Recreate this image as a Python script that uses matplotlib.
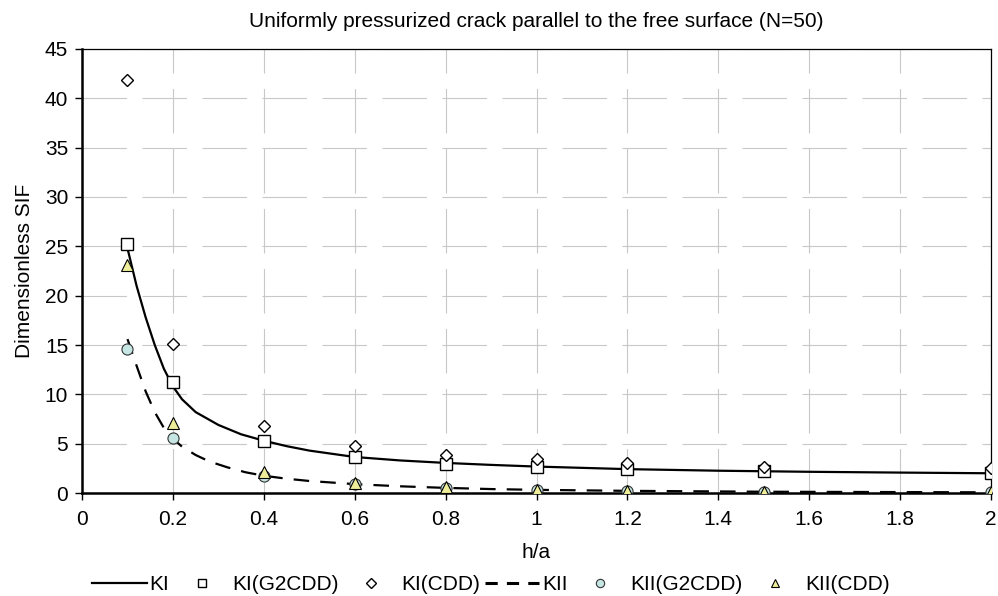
import matplotlib
matplotlib.use("Agg")
import matplotlib.pyplot as plt
from matplotlib.lines import Line2D

plt.rcParams["font.family"] = ["Liberation Sans", "DejaVu Sans"]

# Markers: numerical results at the sampled h/a values
h_marks = [0.1, 0.2, 0.4, 0.6, 0.8, 1.0, 1.2, 1.5, 2.0]
ki_g2cdd = [25.2, 11.25, 5.27, 3.68, 2.94, 2.6, 2.4, 2.26, 2.06]
ki_cdd = [41.9, 15.07, 6.8, 4.8, 3.85, 3.41, 3.0, 2.67, 2.5]
kii_g2cdd = [14.56, 5.54, 1.72, 0.9, 0.5, 0.3, 0.2, 0.12, 0.07]
kii_cdd = [23.1, 7.1, 2.16, 1.05, 0.58, 0.3, 0.18, 0.1, 0.06]

# Reference curves
h_ki = [0.1, 0.12, 0.14, 0.16, 0.18, 0.2, 0.22, 0.25, 0.3, 0.35, 0.4,
        0.45, 0.5, 0.6, 0.7, 0.8, 0.9, 1.0, 1.2, 1.4, 1.6, 1.8, 2.0]
ki_line = [24.8, 21.0, 17.8, 15.0, 12.6, 10.8, 9.5, 8.2, 6.9, 5.95, 5.3,
           4.75, 4.3, 3.65, 3.3, 3.05, 2.85, 2.68, 2.42, 2.26, 2.15, 2.07, 2.0]
h_kii = [0.1, 0.12, 0.14, 0.16, 0.18, 0.2, 0.22, 0.25, 0.28, 0.32, 0.36,
         0.4, 0.45, 0.5, 0.6, 0.7, 0.8, 0.9, 1.0, 1.2, 1.5, 2.0]
kii_line = [15.6, 12.9, 10.3, 8.2, 6.6, 5.5, 4.7, 3.85, 3.2, 2.6, 2.1,
            1.75, 1.45, 1.22, 0.9, 0.68, 0.52, 0.4, 0.32, 0.22, 0.13, 0.07]

x_ticks = [0, 0.2, 0.4, 0.6, 0.8, 1.0, 1.2, 1.4, 1.6, 1.8, 2.0]
x_labels = ["0", "0.2", "0.4", "0.6", "0.8", "1", "1.2", "1.4", "1.6", "1.8", "2"]
y_ticks = list(range(0, 50, 5))

fig = plt.figure(figsize=(9.98, 5.96), dpi=100)
ax = fig.add_axes([0.0822, 0.1728, 0.9108, 0.745])

ax.plot(h_ki, ki_line, color="black", lw=1.6, label="KI", zorder=3)
ax.plot(h_marks, ki_g2cdd, ls="none", marker="s", ms=8, mfc="white",
        mec="black", mew=1.0, label="KI(G2CDD)", zorder=4)
ax.plot(h_marks, ki_cdd, ls="none", marker="D", ms=6.5, mfc="white",
        mec="black", mew=1.0, label="KI(CDD)", zorder=4)
ax.plot(h_kii, kii_line, color="black", lw=1.6, ls=(0, (7, 5)),
        label="KII", zorder=3)
ax.plot(h_marks, kii_g2cdd, ls="none", marker="o", ms=8, mfc="#c6e6e4",
        mec="#333333", mew=0.8, label="KII(G2CDD)", zorder=5)
ax.plot(h_marks, kii_cdd, ls="none", marker="^", ms=8, mfc="#eeee9a",
        mec="black", mew=0.8, label="KII(CDD)", zorder=6)

ax.set_xlim(0, 2)
ax.set_ylim(0, 45)
ax.set_xticks(x_ticks)
ax.set_xticklabels(x_labels)
ax.set_yticks(y_ticks)
ax.tick_params(labelsize=15, direction="out", length=5, width=1)
ax.tick_params(axis="x", pad=7)
ax.tick_params(axis="y", pad=5)

ax.grid(True, color="#c8c8c8", lw=0.8, ls=(0, (40, 14)))
ax.set_axisbelow(True)

for side in ["left", "bottom"]:
    ax.spines[side].set_linewidth(1.8)
for side in ["top", "right"]:
    ax.spines[side].set_linewidth(0.9)

ax.set_title("Uniformly pressurized crack parallel to the free surface (N=50)",
             fontsize=15, pad=16)
ax.set_xlabel("h/a", fontsize=15, labelpad=10)
ax.set_ylabel("Dimensionless SIF", fontsize=15, labelpad=8)

handles = [
    Line2D([], [], color="black", lw=1.6),
    Line2D([], [], ls="none", marker="s", ms=6, mfc="white", mec="black", mew=1.0),
    Line2D([], [], ls="none", marker="D", ms=5, mfc="white", mec="black", mew=1.0),
    Line2D([], [], color="black", lw=2.2, ls=(0, (4, 3))),
    Line2D([], [], ls="none", marker="o", ms=6, mfc="#c6e6e4", mec="#333333", mew=0.8),
    Line2D([], [], ls="none", marker="^", ms=6, mfc="#eeee9a", mec="black", mew=0.8),
]
labels = ["KI", "KI(G2CDD)", "KI(CDD)", "KII", "KII(G2CDD)", "KII(CDD)"]
fig.legend(handles, labels, loc="center", bbox_to_anchor=(0.492, 0.0185),
           ncol=6, frameon=False, fontsize=15, handlelength=2.6,
           handletextpad=0.15, columnspacing=0.25)

fig.savefig("out.png", dpi=100)
